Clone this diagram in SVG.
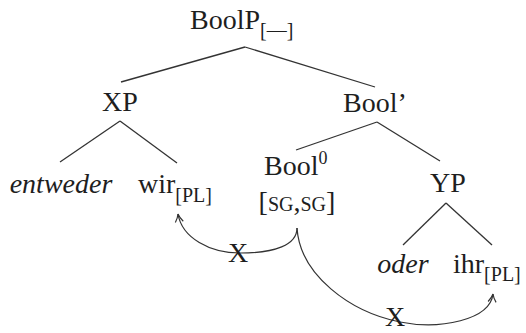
<svg xmlns="http://www.w3.org/2000/svg" width="526" height="333" viewBox="0 0 526 333">
  <style>
    .lbl { font-size: 28px; }
    .it { font-style: italic; }
    .sub { font-size: 20px; }
    .sc { font-size: 20px; }
    .edge { stroke: #333; stroke-width: 1.3; fill: none; }
    .arc { stroke: #333; stroke-width: 1.2; fill: none; }
  </style>
  <defs>
    <marker id="tip" viewBox="0 0 10 10" refX="9" refY="5" markerWidth="10" markerHeight="10" markerUnits="userSpaceOnUse" orient="auto">
      <path d="M1,1 Q5,4 9,5 Q5,6 1,9" fill="none" stroke="#333" stroke-width="1.2"/>
    </marker>
  </defs>
  <rect width="526" height="333" fill="#fff"/>

  <g id="connectors">
    <line class="edge" x1="245" y1="47" x2="121" y2="82"/>
    <line class="edge" x1="245" y1="47" x2="375" y2="87"/>
    <line class="edge" x1="120" y1="121" x2="60" y2="162"/>
    <line class="edge" x1="120" y1="121" x2="177" y2="163"/>
    <line class="edge" x1="377" y1="122" x2="296" y2="150"/>
    <line class="edge" x1="377" y1="122" x2="440" y2="161"/>
    <line class="edge" x1="446" y1="203" x2="403" y2="245"/>
    <line class="edge" x1="446" y1="203" x2="492" y2="245"/>
    <path class="arc" d="M297,228 C297,245 275,253 240,253 C210,253 182,238 178,214" marker-end="url(#tip)"/>
    <path class="arc" d="M297,228 C300,275 350,312 400,322 C440,330 490,320 493,294" marker-end="url(#tip)"/>
  </g>

  <g font-family="'Liberation Serif', 'DejaVu Serif', serif" fill="#1e1e1e">
    <g id="boolp">
      <text class="lbl" x="190" y="29">BoolP<tspan class="sub" dy="8">[—]</tspan></text>
    </g>
    <g id="xp">
      <text class="lbl" x="120" y="111" text-anchor="middle">XP</text>
    </g>
    <g id="boolbar">
      <text class="lbl" x="375" y="112" text-anchor="middle">Bool’</text>
    </g>
    <g id="entweder">
      <text class="lbl it" x="61" y="193" text-anchor="middle">entweder</text>
    </g>
    <g id="wir">
      <text class="lbl" x="138" y="193">wir<tspan class="sub" dy="9">[PL]</tspan></text>
    </g>
    <g id="bool0">
      <text class="lbl" x="264" y="175">Bool<tspan font-size="18" dy="-11">0</tspan></text>
      <text class="lbl" x="297" y="211" text-anchor="middle">[<tspan class="sc">SG</tspan>,<tspan class="sc">SG</tspan>]</text>
    </g>
    <g id="yp">
      <text class="lbl" x="448" y="192" text-anchor="middle">YP</text>
    </g>
    <g id="oder">
      <text class="lbl it" x="403" y="273" text-anchor="middle">oder</text>
    </g>
    <g id="ihr">
      <text class="lbl" x="453" y="273">ihr<tspan class="sub" dy="8">[PL]</tspan></text>
    </g>
    <g id="blocked-marks">
      <text class="lbl" x="238" y="262" text-anchor="middle" font-size="24">X</text>
      <text class="lbl" x="395" y="326" text-anchor="middle" font-size="24">X</text>
    </g>
  </g>
</svg>
